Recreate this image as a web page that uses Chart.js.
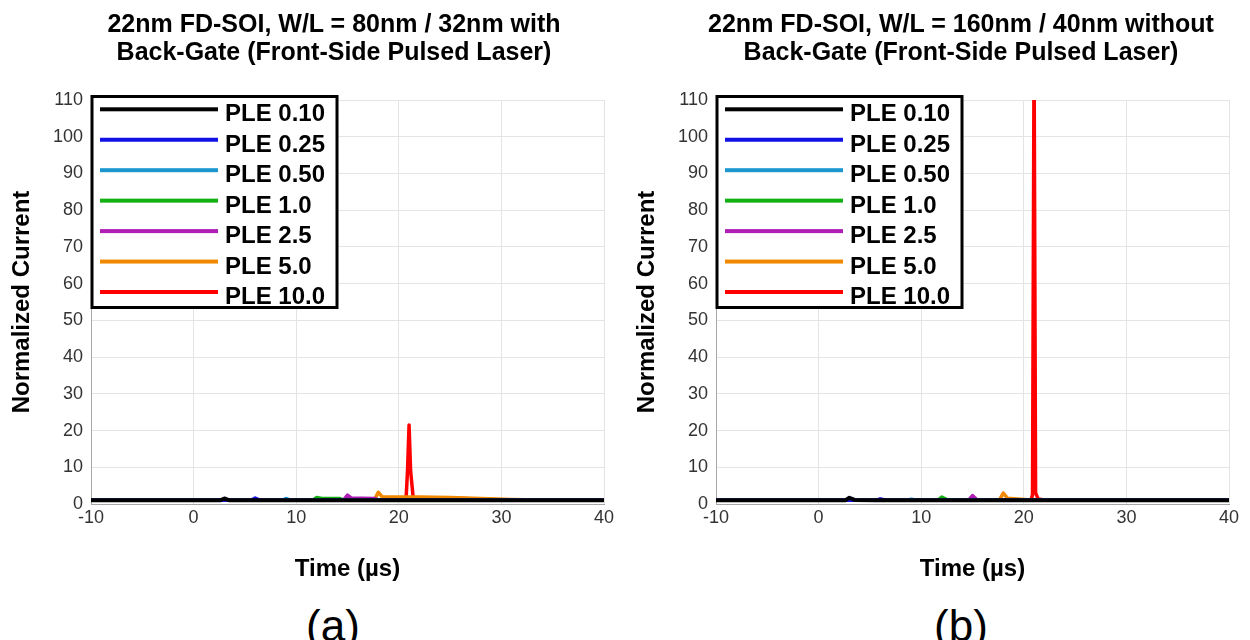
<!DOCTYPE html>
<html>
<head>
<meta charset="utf-8">
<title>PLE transient current</title>
<script src="https://cdn.jsdelivr.net/npm/chart.js@4.4.1/dist/chart.umd.min.js"></script>
<style>
  html, body { margin: 0; padding: 0; background: #fff; }
  body { width: 1250px; height: 640px; position: relative; overflow: hidden;
         font-family: 'Liberation Sans', Arial, sans-serif; color: #000; }
  .panel { position: absolute; top: 0; width: 625px; height: 600px; }
  .title { position: absolute; top: 9px; font-weight: bold; font-size: 25px; line-height: 28px;
           text-align: center; white-space: nowrap; }
  .caption { position: absolute; top: 604px; width: 200px; font-size: 44px; line-height: 44px;
             text-align: center; }
</style>
</head>
<body>
<div class="panel" style="left:0"><canvas id="chartA" width="625" height="600"></canvas></div>
<div class="panel" style="left:625px"><canvas id="chartB" width="625" height="600"></canvas></div>

<div class="title" style="left:0; width:668px">22nm FD-SOI, W/L = 80nm / 32nm with<br>Back-Gate (Front-Side Pulsed Laser)</div>
<div class="title" style="left:661px; width:600px">22nm FD-SOI, W/L = 160nm / 40nm without<br>Back-Gate (Front-Side Pulsed Laser)</div>
<div class="caption" style="left:233px">(a)</div>
<div class="caption" style="left:861px">(b)</div>

<script>
// sample times (µs), shared by both panels
const timeUs = [-10, 2.6, 3.0, 3.5, 5.6, 6.0, 6.5, 8.6, 9.0, 9.5, 11.6, 12.0, 12.5,
  14.2, 14.6, 15.0, 15.4, 17.6, 18.0, 18.4, 20.7, 20.85, 21.0, 21.15, 21.4, 22.0,
  25, 28, 31, 35, 40];

const pleLabels = ['PLE 0.10', 'PLE 0.25', 'PLE 0.50', 'PLE 1.0', 'PLE 2.5', 'PLE 5.0', 'PLE 10.0'];
const pleColors = ['#000000', '#1212e6', '#1c96cf', '#14b014', '#b01eb6', '#f08800', '#ff0000'];

const xTicks = [-10, 0, 10, 20, 30, 40];
const yTicks = [0, 10, 20, 30, 40, 50, 60, 70, 80, 90, 100, 110];

// (a) 80nm / 32nm, with back-gate
const a010 = [1, 1, 1.5, 1, 1, 1, 1, 1, 1, 1, 1, 1, 1, 1, 1, 1, 1, 1, 1, 1, 1, 1, 1, 1, 1, 1, 1, 1, 1, 1, 1];
const a025 = [1, 1, 1, 1, 1, 1.6, 1, 1, 1, 1, 1, 1, 1, 1, 1, 1, 1, 1, 1, 1, 1, 1, 1, 1, 1, 1, 1, 1, 1, 1, 1];
const a050 = [1, 1, 1, 1, 1, 1, 1, 1, 1.5, 1, 1, 1, 1, 1, 1, 1, 1, 1, 1, 1, 1, 1, 1, 1, 1, 1, 1, 1, 1, 1, 1];
const a100 = [1, 1, 1, 1, 1, 1, 1, 1, 1, 1, 1, 1.8, 1.5, 1.5, 1.1, 1, 1, 1, 1, 1, 1, 1, 1, 1, 1, 1, 1, 1, 1, 1, 1];
const a250 = [1, 1, 1, 1, 1, 1, 1, 1, 1, 1, 1, 1, 1, 1, 1, 2.4, 1.6, 1.5, 1.1, 1, 1, 1, 1, 1, 1, 1, 1, 1, 1, 1, 1];
const a500 = [1, 1, 1, 1, 1, 1, 1, 1, 1, 1, 1, 1, 1, 1, 1, 1, 1, 1, 3.2, 1.9, 1.9, 1.9, 1.9, 1.9, 1.9, 1.9, 1.8, 1.5, 1.2, 1, 1];
const a1000 = [1, 1, 1, 1, 1, 1, 1, 1, 1, 1, 1, 1, 1, 1, 1, 1, 1, 1, 1, 1, 1, 9, 21.5, 9, 1.8, 1.7, 1.6, 1.3, 1.1, 1, 1];

// (b) 160nm / 40nm, without back-gate
const b010 = [1, 1, 1.7, 1.1, 1, 1, 1, 1, 1, 1, 1, 1, 1, 1, 1, 1, 1, 1, 1, 1, 1, 1, 1, 1, 1, 1, 1, 1, 1, 1, 1];
const b025 = [1, 1, 1, 1, 1, 1.4, 1.1, 1, 1, 1, 1, 1, 1, 1, 1, 1, 1, 1, 1, 1, 1, 1, 1, 1, 1, 1, 1, 1, 1, 1, 1];
const b050 = [1, 1, 1, 1, 1, 1, 1, 1, 1.3, 1.1, 1, 1, 1, 1, 1, 1, 1, 1, 1, 1, 1, 1, 1, 1, 1, 1, 1, 1, 1, 1, 1];
const b100 = [1, 1, 1, 1, 1, 1, 1, 1, 1, 1, 1, 1.9, 1.2, 1, 1, 1, 1, 1, 1, 1, 1, 1, 1, 1, 1, 1, 1, 1, 1, 1, 1];
const b250 = [1, 1, 1, 1, 1, 1, 1, 1, 1, 1, 1, 1, 1, 1, 1, 2.3, 1.2, 1, 1, 1, 1, 1, 1, 1, 1, 1, 1, 1, 1, 1, 1];
const b500 = [1, 1, 1, 1, 1, 1, 1, 1, 1, 1, 1, 1, 1, 1, 1, 1, 1, 1, 3.0, 1.6, 1.1, 1, 1, 1, 1, 1, 1, 1, 1, 1, 1];
const b1000 = [1, 1, 1, 1, 1, 1, 1, 1, 1, 1, 1, 1, 1, 1, 1, 1, 1, 1, 1, 1, 1, 2.5, 125, 3, 1.4, 1.1, 1, 1, 1, 1, 1];

Chart.defaults.font.family = "'Liberation Sans', Arial, sans-serif";

// legend drawn inside the plot, with a heavy black frame
const boxedLegend = {
  id: 'boxedLegend',
  afterDatasetsDraw(chart) {
    const { ctx, chartArea: { left, top } } = chart;
    ctx.save();
    ctx.fillStyle = '#fff';
    ctx.fillRect(left + 1, top - 3.5, 245, 211);
    ctx.lineWidth = 3;
    ctx.strokeStyle = '#000';
    ctx.strokeRect(left + 1, top - 3.5, 245, 211);
    ctx.font = "bold 24px 'Liberation Sans', Arial, sans-serif";
    ctx.textBaseline = 'alphabetic';
    chart.data.datasets.forEach((ds, i) => {
      const y = top + 9.3 + i * 30.45;
      ctx.fillStyle = ds.borderColor;
      ctx.fillRect(left + 9, y - 2, 118, 4);
      ctx.fillStyle = '#000';
      ctx.fillText(ds.label, left + 134, y + 12);
    });
    ctx.restore();
  }
};

function axis(extra) {
  return Object.assign({
    grid: { color: '#e4e4e4', drawTicks: false },
    border: { color: '#a8a8a8' },
  }, extra);
}

function makeChart(id, series) {
  return new Chart(document.getElementById(id), {
    type: 'line',
    data: {
      datasets: pleLabels.map((label, i) => ({
        label,
        data: timeUs.map((t, k) => ({ x: t, y: series[i][k] })),
        borderColor: pleColors[i],
        backgroundColor: pleColors[i],
        borderWidth: i === 0 ? 4 : 3.5,
        borderJoinStyle: 'round',
        pointRadius: 0,
        tension: 0,
        fill: false
      }))
    },
    options: {
      responsive: false,
      animation: false,
      layout: { padding: { left: 8, right: 21, top: 100, bottom: 13 } },
      plugins: { legend: { display: false }, tooltip: { enabled: false } },
      scales: {
        x: axis({
          type: 'linear', min: -10, max: 40,
          afterBuildTicks: s => { s.ticks = xTicks.map(v => ({ value: v })); },
          afterFit: s => { s.height = 83; },
          ticks: { padding: 3, color: '#333', font: { size: 18 } },
          title: { display: true, text: 'Time (µs)', color: '#000',
                   font: { size: 24, weight: 'bold' }, padding: { top: 0, bottom: 3 } }
        }),
        y: axis({
          min: 0, max: 110,
          afterBuildTicks: s => { s.ticks = yTicks.map(v => ({ value: v })); },
          afterFit: s => { s.width = 83; },
          ticks: { padding: 8, color: '#333', font: { size: 18 } },
          title: { display: true, text: 'Normalized Current', color: '#000',
                   font: { size: 24, weight: 'bold' }, padding: { top: 0, bottom: 0 } }
        })
      }
    },
    plugins: [boxedLegend]
  });
}

makeChart('chartA', [a010, a025, a050, a100, a250, a500, a1000]);
makeChart('chartB', [b010, b025, b050, b100, b250, b500, b1000]);
</script>
</body>
</html>
